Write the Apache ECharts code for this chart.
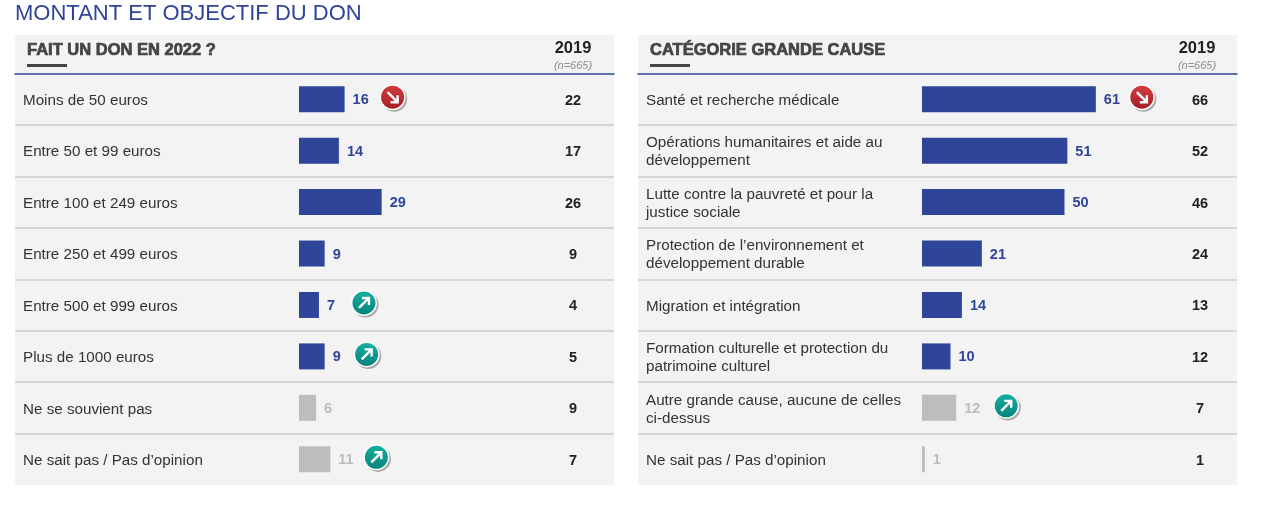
<!DOCTYPE html>
<html>
<head>
<meta charset="utf-8">
<title>Montant et objectif du don</title>
<style>
  html, body { margin: 0; padding: 0; background: #fff; }
  #chart { width: 1263px; height: 505px; }
</style>
</head>
<body>
<div id="chart"></div>
<script src="https://cdn.jsdelivr.net/npm/echarts@6/dist/echarts.min.js"></script>
<script>
const donCategories = ['Moins de 50 euros', 'Entre 50 et 99 euros', 'Entre 100 et 249 euros', 'Entre 250 et 499 euros',
  'Entre 500 et 999 euros', 'Plus de 1000 euros', 'Ne se souvient pas', 'Ne sait pas / Pas d’opinion']
const donValues = [16, 14, 29, 9, 7, 9, 6, 11]
const don2019 = [22, 17, 26, 9, 4, 5, 9, 7]
const donGrey = [6, 7]
const donTrends = [-1, 0, 0, 0, 1, 1, 0, 1]

const causeCategories = ['Santé et recherche médicale', 'Opérations humanitaires et aide au\ndéveloppement',
  'Lutte contre la pauvreté et pour la\njustice sociale', 'Protection de l’environnement et\ndéveloppement durable',
  'Migration et intégration', 'Formation culturelle et protection du\npatrimoine culturel',
  'Autre grande cause, aucune de celles\nci-dessus', 'Ne sait pas / Pas d’opinion']
const causeValues = [61, 51, 50, 21, 14, 10, 12, 1]
const cause2019 = [66, 52, 46, 24, 13, 12, 7, 1]
const causeGrey = [6, 7]
const causeTrends = [-1, 0, 0, 0, 0, 0, 1, 0]

const BLUE = '#2e4599'
const GREY = '#bdbdbd'
const DARK = '#444444'
const FONT = '"Liberation Sans", Arial, sans-serif'

// px distance from bar end to icon centre, per row
const donGaps = [48, 0, 0, 0, 45, 42, 0, 46]
const causeGaps = [46, 0, 0, 0, 0, 0, 50, 0]

const PANEL_W = 599
const PX_PER_UNIT = 2.85
const BAR_OFFSET = 284

function renderTrend(params, api) {
  const pt = api.coord([api.value(0), api.value(1)])
  const up = api.value(2) > 0
  const cx = pt[0] + api.value(3)
  const cy = pt[1] - 2
  const colors = up ? ['#16ad9f', '#06857d'] : ['#d23b3f', '#a81f26']
  const line = up ? [[-5, 5], [5, -5]] : [[-5, -5], [5, 5]]
  const head = up ? [[-2, -5], [5, -5], [5, 2]] : [[5, -2], [5, 5], [-2, 5]]
  const arrow = { stroke: '#fff', lineWidth: 2.4, fill: null }
  return {
    type: 'group',
    x: cx,
    y: cy,
    children: [
      { type: 'circle', shape: { cx: 1.6, cy: 1.6, r: 13 }, style: { fill: '#a9a9a9' } },
      { type: 'circle', shape: { cx: 0, cy: 0, r: 13 }, style: { fill: '#fff' } },
      {
        type: 'circle',
        shape: { cx: 0, cy: 0, r: 11.5 },
        style: { fill: new echarts.graphic.LinearGradient(0, 0, 0, 1, [
          { offset: 0, color: colors[0] },
          { offset: 1, color: colors[1] }
        ]) }
      },
      { type: 'polyline', shape: { points: line }, style: arrow },
      { type: 'polyline', shape: { points: head }, style: arrow }
    ]
  }
}

// each panel has two grids: bars and rules in one, row texts in a second one set 1.5px lower
function panelParts(index, left, categories, values, old, greyRows, trends, gaps, oldMargin) {
  const barGrid = index * 2
  const textGrid = barGrid + 1
  return {
    grid: [
      { left: left, top: 73.5, width: PANEL_W, height: 411.5 },
      { left: left, top: 75, width: PANEL_W, height: 411.5 }
    ],
    xAxis: [{
      gridIndex: barGrid,
      type: 'value',
      position: 'top',
      min: -BAR_OFFSET / PX_PER_UNIT,
      max: (PANEL_W - BAR_OFFSET) / PX_PER_UNIT,
      axisLine: { show: true, onZero: false, lineStyle: { color: BLUE, width: 1.5 } },
      axisTick: { show: false },
      axisLabel: { show: false },
      splitLine: { show: false }
    }, {
      gridIndex: textGrid,
      type: 'value',
      show: false
    }],
    yAxis: [{
      gridIndex: barGrid,
      type: 'category',
      inverse: true,
      data: categories,
      axisLine: { show: false, onZero: false },
      axisTick: { show: false },
      axisLabel: { show: false },
      splitLine: { show: true, showMinLine: false, showMaxLine: false, lineStyle: { color: '#cdcdcd', width: 1.5 } }
    }, {
      gridIndex: textGrid,
      type: 'category',
      inverse: true,
      data: categories,
      position: 'left',
      axisLine: { show: false, onZero: false },
      axisTick: { show: false },
      axisLabel: { inside: true, margin: 8, color: '#333', fontFamily: FONT, fontSize: 15.2, lineHeight: 18, align: 'left' },
      splitLine: { show: false }
    }, {
      gridIndex: textGrid,
      type: 'category',
      inverse: true,
      data: old,
      position: 'right',
      axisLine: { show: false, onZero: false },
      axisTick: { show: false },
      axisLabel: { inside: true, margin: oldMargin, align: 'center', color: '#222', fontFamily: FONT, fontSize: 14.5, fontWeight: 'bold' },
      splitLine: { show: false }
    }],
    series: [{
      type: 'bar',
      xAxisIndex: barGrid,
      yAxisIndex: index * 3,
      barWidth: 26,
      data: values.map((v, i) => {
        const grey = greyRows.includes(i)
        return {
          value: v,
          itemStyle: { color: grey ? GREY : BLUE },
          label: { color: grey ? GREY : BLUE }
        }
      }),
      label: { show: true, position: 'right', distance: 8, offset: [0, 1], fontFamily: FONT, fontSize: 14.5, fontWeight: 'bold' },
      silent: true
    }, {
      type: 'custom',
      xAxisIndex: barGrid,
      yAxisIndex: index * 3,
      renderItem: renderTrend,
      encode: { x: 0, y: 1 },
      data: values.map((v, i) => [v, i, trends[i], gaps[i]]).filter(d => d[2] !== 0),
      z: 5,
      silent: true
    }]
  }
}

function headerTitles(text, left, yearX) {
  return [{
    text: text,
    left: left,
    top: 42,
    padding: 0,
    textStyle: { color: DARK, fontFamily: FONT, fontSize: 16.5, fontWeight: 'bold', textBorderColor: DARK, textBorderWidth: 0.7 }
  }, {
    text: '2019',
    left: yearX,
    top: 40,
    padding: 0,
    textAlign: 'center',
    textStyle: { color: '#222', fontFamily: FONT, fontSize: 16.5, fontWeight: 'bold' }
  }, {
    text: '(n=665)',
    left: yearX,
    top: 60,
    padding: 0,
    textAlign: 'center',
    textStyle: { color: '#8a8a8a', fontFamily: FONT, fontSize: 11, fontWeight: 'normal', fontStyle: 'italic' }
  }]
}

const left = panelParts(0, 15, donCategories, donValues, don2019, donGrey, donTrends, donGaps, 41)
const right = panelParts(1, 638, causeCategories, causeValues, cause2019, causeGrey, causeTrends, causeGaps, 37)

const chart = echarts.init(document.getElementById('chart'), null, { renderer: 'canvas' })
chart.setOption({
  animation: false,
  backgroundColor: '#fff',
  title: [{
    text: 'MONTANT ET OBJECTIF DU DON',
    left: 15,
    top: 3,
    padding: 0,
    textStyle: { color: BLUE, fontFamily: FONT, fontSize: 22, fontWeight: 'normal' }
  }].concat(headerTitles('FAIT UN DON EN 2022 ?', 27, 573), headerTitles('CATÉGORIE GRANDE CAUSE', 650, 1197)),
  graphic: [
    { type: 'rect', z: -10, shape: { x: 15, y: 35, width: PANEL_W, height: 450 }, style: { fill: '#f3f3f3' } },
    { type: 'rect', z: -10, shape: { x: 638, y: 35, width: PANEL_W, height: 450 }, style: { fill: '#f3f3f3' } },
    { type: 'rect', z: 1, shape: { x: 27, y: 64, width: 40, height: 3 }, style: { fill: DARK } },
    { type: 'rect', z: 1, shape: { x: 650, y: 64, width: 40, height: 3 }, style: { fill: DARK } }
  ],
  grid: left.grid.concat(right.grid),
  xAxis: left.xAxis.concat(right.xAxis),
  yAxis: left.yAxis.concat(right.yAxis),
  series: left.series.concat(right.series)
})
</script>
</body>
</html>
